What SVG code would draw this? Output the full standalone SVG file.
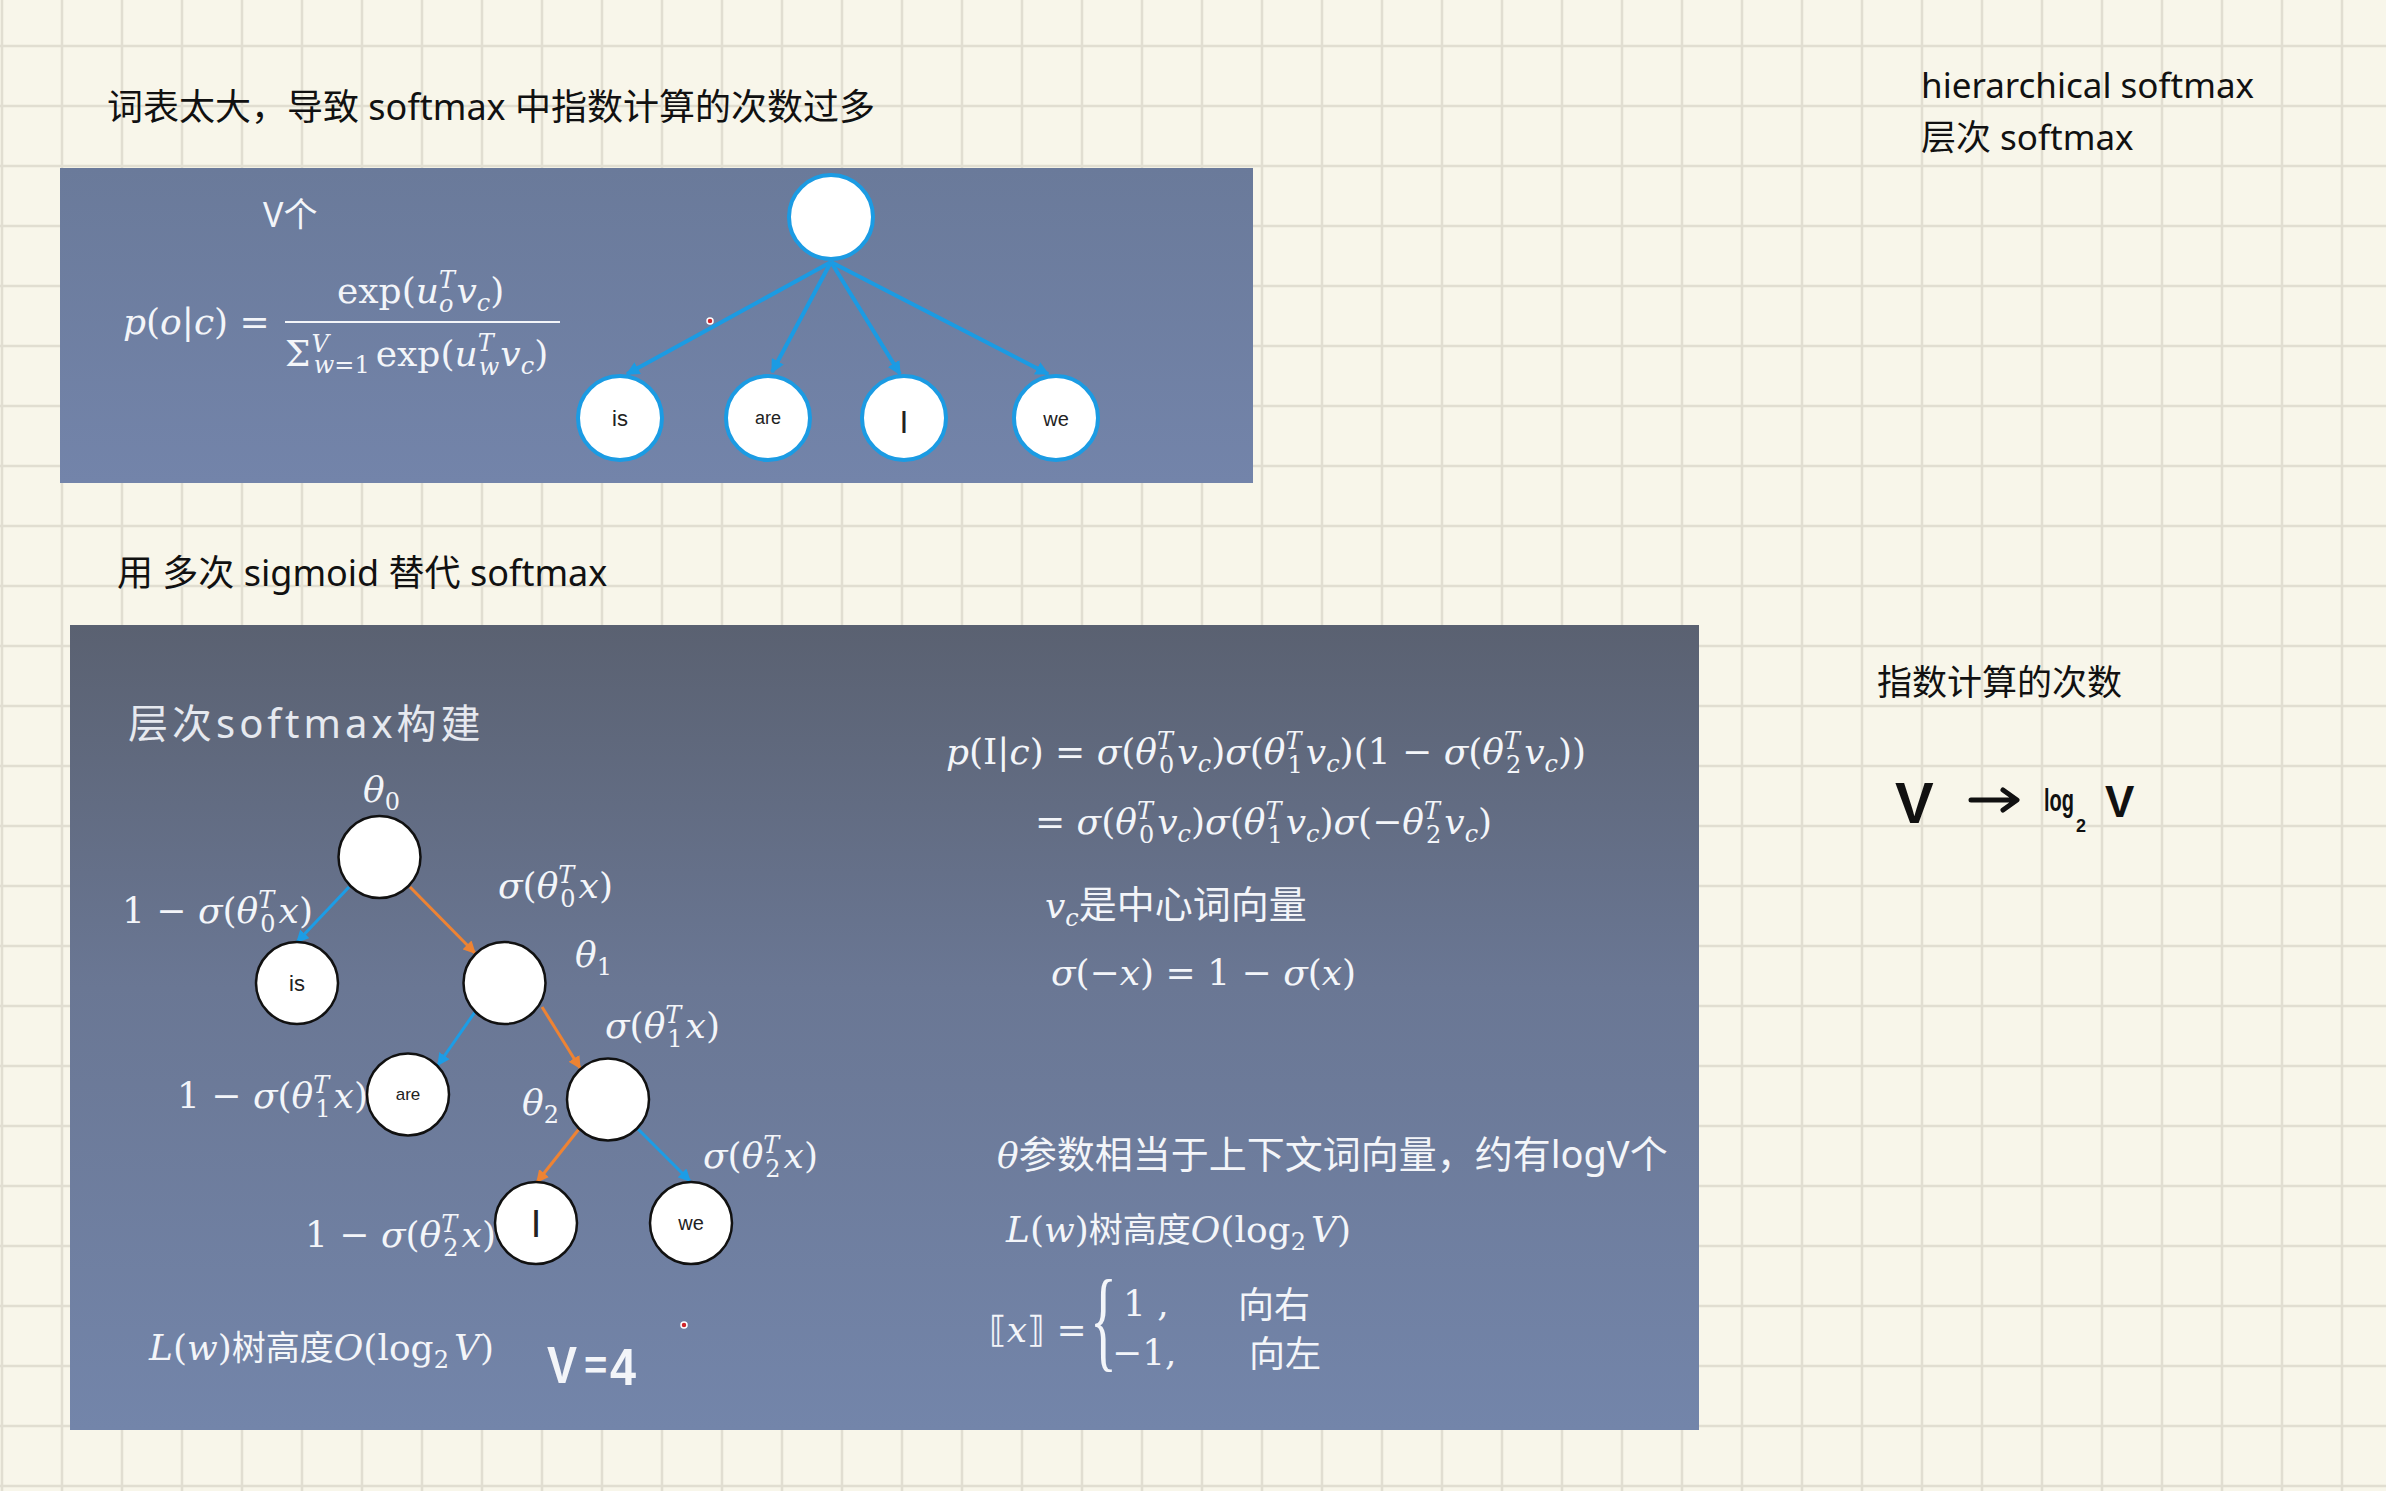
<svg xmlns="http://www.w3.org/2000/svg" width="2386" height="1491" viewBox="0 0 2386 1491">
<defs>
<style>
.cn{font-family:"Noto Sans","Noto Sans CJK SC",sans-serif;}
.m{font-family:"DejaVu Serif","DejaVu Sans","Noto Sans CJK SC",serif;font-size:36px;fill:#f3f5f9;}
.i{font-style:italic;}
.s{font-size:24px;}
.blk{fill:#111;}
.wt{fill:#f3f5f9;}
.leafT{fill:#fff;stroke:#1b9be3;stroke-width:4;}
.nodeB{fill:#fff;stroke:#111;stroke-width:2.5;}
.lbl{font-family:"Liberation Sans","Noto Sans",sans-serif;fill:#222;text-anchor:middle;}
.eBlue{stroke:#1b9be3;stroke-width:4;fill:none;}
.eB{stroke:#1c9de6;stroke-width:3;fill:none;}
.eO{stroke:#ee8333;stroke-width:3;fill:none;}
.hand{font-family:"Liberation Sans","DejaVu Sans",sans-serif;font-weight:bold;}
.brace{font-family:"Liberation Serif",serif;font-style:normal;font-size:112px;}
</style>
<pattern id="grid" width="60" height="60" patternUnits="userSpaceOnUse">
<rect width="60" height="60" fill="#f8f6ea"/>
<path d="M2 0V60M0 46H60" stroke="#e1ded1" stroke-width="2.5"/>
</pattern>
<linearGradient id="gTop" x1="0" y1="0" x2="0" y2="1">
<stop offset="0" stop-color="#6a7a9a"/>
<stop offset="1" stop-color="#7384aa"/>
</linearGradient>
<linearGradient id="gBot" x1="0" y1="0" x2="0" y2="1">
<stop offset="0" stop-color="#5a6171"/>
<stop offset="0.45" stop-color="#6a7794"/>
<stop offset="1" stop-color="#7385aa"/>
</linearGradient>
<marker id="aBlueT" viewBox="0 0 10 10" refX="9" refY="5" markerWidth="3.4" markerHeight="3.4" orient="auto" markerUnits="strokeWidth">
<path d="M0,0L10,5L0,10z" fill="#1b9be3"/>
</marker>
<marker id="aB" viewBox="0 0 10 10" refX="9" refY="5" markerWidth="4.2" markerHeight="4.2" orient="auto" markerUnits="strokeWidth">
<path d="M0,0L10,5L0,10z" fill="#1c9de6"/>
</marker>
<marker id="aO" viewBox="0 0 10 10" refX="9" refY="5" markerWidth="4.2" markerHeight="4.2" orient="auto" markerUnits="strokeWidth">
<path d="M0,0L10,5L0,10z" fill="#ee8333"/>
</marker>
</defs>

<rect width="2386" height="1491" fill="url(#grid)"/>

<!-- page texts -->
<text class="cn" x="107" y="120" font-size="36" fill="#111">词表太大，导致 softmax 中指数计算的次数过多</text>
<text class="cn" x="117" y="586" font-size="36" fill="#111">用 多次 sigmoid 替代 softmax</text>
<text class="cn" x="1921" y="98" font-size="35" fill="#111">hierarchical softmax</text>
<text class="cn" x="1921" y="150" font-size="35" fill="#111">层次 softmax</text>
<text class="cn" x="1877" y="695" font-size="35" fill="#111">指数计算的次数</text>

<g id="handwritten-complexity" class="hand blk">
<text x="1895" y="823" font-size="58">V</text>
<path d="M1971,800H2016M2003,790L2017,800L2003,810" stroke="#111" stroke-width="5" fill="none" stroke-linecap="round" stroke-linejoin="round"/>
<text x="2044" y="811" font-size="32" textLength="30" lengthAdjust="spacingAndGlyphs">log</text>
<text x="2076" y="832" font-size="18">2</text>
<text x="2105" y="817" font-size="44">V</text>
</g>

<!-- top panel -->
<rect id="panel-top" x="60" y="168" width="1193" height="315" fill="url(#gTop)"/>
<text class="cn wt" x="263" y="227" font-size="34">V个</text>
<g id="softmax-formula" class="m">
<text x="123" y="334"><tspan class="i">p</tspan>(<tspan class="i">o</tspan>|<tspan class="i">c</tspan>) =</text>
<text x="337" y="303">exp(<tspan class="i">u</tspan><tspan class="i s" dy="-15">T</tspan><tspan class="i s" dx="-14" dy="24">o</tspan><tspan class="i" dy="-9" dx="3">v</tspan><tspan class="i s" dy="8">c</tspan><tspan dy="-8">)</tspan></text>
<line x1="285" y1="322" x2="560" y2="322" stroke="#f3f5f9" stroke-width="2"/>
<text x="285" y="366">Σ<tspan class="i s" dy="-14" dx="1">V</tspan><tspan class="s" dx="-15" dy="21"><tspan class="i">w</tspan>=1</tspan><tspan dy="-7" dx="6">exp(</tspan><tspan class="i">u</tspan><tspan class="i s" dy="-15">T</tspan><tspan class="i s" dx="-14" dy="24">w</tspan><tspan class="i" dy="-9" dx="1">v</tspan><tspan class="i s" dy="8">c</tspan><tspan dy="-8">)</tspan></text>
</g>

<g id="connectors-top">
<line class="eBlue" x1="831" y1="262" x2="627" y2="374" marker-end="url(#aBlueT)"/>
<line class="eBlue" x1="831" y1="262" x2="772" y2="372" marker-end="url(#aBlueT)"/>
<line class="eBlue" x1="831" y1="262" x2="900" y2="374" marker-end="url(#aBlueT)"/>
<line class="eBlue" x1="831" y1="262" x2="1048" y2="374" marker-end="url(#aBlueT)"/>
</g>
<g id="top-root"><circle class="leafT" cx="831" cy="217" r="42"/></g>
<g id="top-is"><circle class="leafT" cx="620" cy="418" r="42"/><text class="lbl" x="620" y="426" font-size="22">is</text></g>
<g id="top-are"><circle class="leafT" cx="768" cy="418" r="42"/><text class="lbl" x="768" y="424" font-size="18">are</text></g>
<g id="top-I"><circle class="leafT" cx="904" cy="418" r="42"/><text class="lbl" x="904" y="433" font-size="32">I</text></g>
<g id="top-we"><circle class="leafT" cx="1056" cy="418" r="42"/><text class="lbl" x="1056" y="426" font-size="20">we</text></g>
<circle cx="710" cy="321" r="3" fill="#d0262b" stroke="#fff" stroke-width="1.5"/>

<!-- bottom panel -->
<rect id="panel-bottom" x="70" y="625" width="1629" height="805" fill="url(#gBot)"/>
<text class="cn" x="128" y="738" font-size="40" letter-spacing="4" fill="#e6e9ef">层次softmax构建</text>

<g id="connectors-bottom">
<line class="eB" x1="349" y1="887" x2="297" y2="942" marker-end="url(#aB)"/>
<line class="eO" x1="410" y1="887" x2="475" y2="953" marker-end="url(#aO)"/>
<line class="eB" x1="475" y1="1012" x2="438" y2="1065" marker-end="url(#aB)"/>
<line class="eO" x1="542" y1="1007" x2="580" y2="1068" marker-end="url(#aO)"/>
<line class="eO" x1="579" y1="1129" x2="537" y2="1182" marker-end="url(#aO)"/>
<line class="eB" x1="638" y1="1129" x2="690" y2="1181" marker-end="url(#aB)"/>
</g>
<g id="node-theta0"><circle class="nodeB" cx="379.5" cy="857" r="41"/></g>
<g id="node-is"><circle class="nodeB" cx="297" cy="983" r="41"/><text class="lbl" x="297" y="991" font-size="22">is</text></g>
<g id="node-theta1"><circle class="nodeB" cx="504.5" cy="983" r="41"/></g>
<g id="node-are"><circle class="nodeB" cx="408" cy="1094.5" r="41"/><text class="lbl" x="408" y="1100" font-size="17">are</text></g>
<g id="node-theta2"><circle class="nodeB" cx="608" cy="1099.5" r="41"/></g>
<g id="node-I"><circle class="nodeB" cx="536" cy="1223" r="41"/><text class="lbl" x="536" y="1237" font-size="38">I</text></g>
<g id="node-we"><circle class="nodeB" cx="691" cy="1223" r="41"/><text class="lbl" x="691" y="1230" font-size="20">we</text></g>

<g id="tree-labels" class="m">
<text x="363" y="802"><tspan class="i">θ</tspan><tspan class="s" dy="8">0</tspan></text>
<text x="122" y="923">1 − <tspan class="i">σ</tspan>(<tspan class="i">θ</tspan><tspan class="i s" dy="-15">T</tspan><tspan class="s" dx="-14" dy="24">0</tspan><tspan class="i" dy="-9" dx="3">x</tspan>)</text>
<text x="498" y="898"><tspan class="i">σ</tspan>(<tspan class="i">θ</tspan><tspan class="i s" dy="-15">T</tspan><tspan class="s" dx="-14" dy="24">0</tspan><tspan class="i" dy="-9" dx="3">x</tspan>)</text>
<text x="575" y="967"><tspan class="i">θ</tspan><tspan class="s" dy="8">1</tspan></text>
<text x="605" y="1038"><tspan class="i">σ</tspan>(<tspan class="i">θ</tspan><tspan class="i s" dy="-15">T</tspan><tspan class="s" dx="-14" dy="24">1</tspan><tspan class="i" dy="-9" dx="3">x</tspan>)</text>
<text x="177" y="1108">1 − <tspan class="i">σ</tspan>(<tspan class="i">θ</tspan><tspan class="i s" dy="-15">T</tspan><tspan class="s" dx="-14" dy="24">1</tspan><tspan class="i" dy="-9" dx="3">x</tspan>)</text>
<text x="522" y="1115"><tspan class="i">θ</tspan><tspan class="s" dy="8">2</tspan></text>
<text x="703" y="1168"><tspan class="i">σ</tspan>(<tspan class="i">θ</tspan><tspan class="i s" dy="-15">T</tspan><tspan class="s" dx="-14" dy="24">2</tspan><tspan class="i" dy="-9" dx="3">x</tspan>)</text>
<text x="305" y="1247">1 − <tspan class="i">σ</tspan>(<tspan class="i">θ</tspan><tspan class="i s" dy="-15">T</tspan><tspan class="s" dx="-14" dy="24">2</tspan><tspan class="i" dy="-9" dx="3">x</tspan>)</text>
<text x="149" y="1360"><tspan class="i">L</tspan>(<tspan class="i">w</tspan>)<tspan class="cn" font-size="34">树高度</tspan><tspan class="i">O</tspan>(log<tspan class="s" dy="8">2</tspan><tspan class="i" dy="-8" dx="5">V</tspan>)</text>
</g>
<g id="v-equals-4" class="hand wt" font-size="52">
<text x="547" y="1383" textLength="30" lengthAdjust="spacingAndGlyphs">V</text>
<text x="584" y="1379" font-size="40">=</text>
<text x="610" y="1385" textLength="26" lengthAdjust="spacingAndGlyphs">4</text>
</g>
<circle cx="684" cy="1325" r="3" fill="#d0262b" stroke="#fff" stroke-width="1.5"/>

<g id="right-formulas" class="m">
<text x="946" y="764"><tspan class="i">p</tspan>(I|<tspan class="i">c</tspan>) = <tspan class="i">σ</tspan>(<tspan class="i">θ</tspan><tspan class="i s" dy="-15">T</tspan><tspan class="s" dx="-14" dy="24">0</tspan><tspan class="i" dy="-9" dx="3">v</tspan><tspan class="i s" dy="8">c</tspan><tspan dy="-8">)</tspan><tspan class="i">σ</tspan>(<tspan class="i">θ</tspan><tspan class="i s" dy="-15">T</tspan><tspan class="s" dx="-14" dy="24">1</tspan><tspan class="i" dy="-9" dx="3">v</tspan><tspan class="i s" dy="8">c</tspan><tspan dy="-8">)</tspan>(1 − <tspan class="i">σ</tspan>(<tspan class="i">θ</tspan><tspan class="i s" dy="-15">T</tspan><tspan class="s" dx="-14" dy="24">2</tspan><tspan class="i" dy="-9" dx="3">v</tspan><tspan class="i s" dy="8">c</tspan><tspan dy="-8">))</tspan></text>
<text x="1035" y="834">= <tspan class="i">σ</tspan>(<tspan class="i">θ</tspan><tspan class="i s" dy="-15">T</tspan><tspan class="s" dx="-14" dy="24">0</tspan><tspan class="i" dy="-9" dx="3">v</tspan><tspan class="i s" dy="8">c</tspan><tspan dy="-8">)</tspan><tspan class="i">σ</tspan>(<tspan class="i">θ</tspan><tspan class="i s" dy="-15">T</tspan><tspan class="s" dx="-14" dy="24">1</tspan><tspan class="i" dy="-9" dx="3">v</tspan><tspan class="i s" dy="8">c</tspan><tspan dy="-8">)</tspan><tspan class="i">σ</tspan>(−<tspan class="i">θ</tspan><tspan class="i s" dy="-15">T</tspan><tspan class="s" dx="-14" dy="24">2</tspan><tspan class="i" dy="-9" dx="3">v</tspan><tspan class="i s" dy="8">c</tspan><tspan dy="-8">)</tspan></text>
<text x="1045" y="918"><tspan class="i">v</tspan><tspan class="i s" dy="8">c</tspan><tspan class="cn" font-size="38" dy="-8">是中心词向量</tspan></text>
<text x="1051" y="985"><tspan class="i">σ</tspan>(−<tspan class="i">x</tspan>) = 1 − <tspan class="i">σ</tspan>(<tspan class="i">x</tspan>)</text>
<text x="997" y="1168"><tspan class="i">θ</tspan><tspan class="cn" font-size="38">参数相当于上下文词向量，约有logV个</tspan></text>
<text x="1006" y="1242"><tspan class="i">L</tspan>(<tspan class="i">w</tspan>)<tspan class="cn" font-size="34">树高度</tspan><tspan class="i">O</tspan>(log<tspan class="s" dy="8">2</tspan><tspan class="i" dy="-8" dx="5">V</tspan>)</text>
<text x="989" y="1342">⟦<tspan class="i">x</tspan>⟧ =</text>
<text class="brace" transform="translate(1090,1357) scale(0.5,1)">{</text>
<text x="1123" y="1316">1 ,</text>
<text x="1112" y="1365">−1,</text>
<text x="1238" y="1318" class="cn" font-size="36">向右</text>
<text x="1249" y="1367" class="cn" font-size="36">向左</text>
</g>
</svg>
